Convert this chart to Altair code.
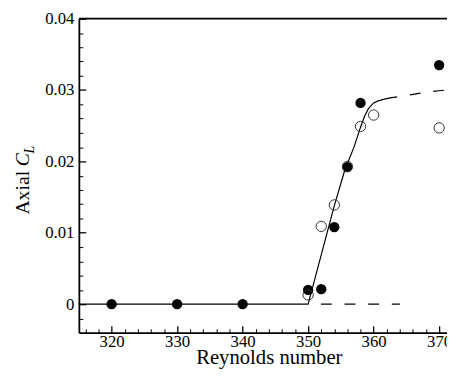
import altair as alt
import pandas as pd

# ---- data ----
re_filled = [320, 330, 340, 350, 352, 354, 356, 358, 370]
cl_filled = [0.0, 0.0, 0.0, 0.0020, 0.0021, 0.0108, 0.0192, 0.0282, 0.0335]

re_open = [350, 352, 354, 356, 358, 360, 370]
cl_open = [0.0013, 0.0109, 0.0139, 0.0193, 0.0249, 0.0265, 0.0247]

re_fit = [315, 350, 352, 354, 355.6, 357, 358, 358.6, 359.2, 360, 360.6, 361.5, 362.5, 363.6]
cl_fit = [0.0, 0.0, 0.0069, 0.0138, 0.0188, 0.0220, 0.0248, 0.0263, 0.0274, 0.0282, 0.02845, 0.0287, 0.0289, 0.02905]

re_dash = [350, 364, 363.6, 366, 368, 370, 372]
cl_dash = [0.0, 0.0, 0.02905, 0.0294, 0.0297, 0.0299, 0.0301]
seg_dash = ["low", "low", "high", "high", "high", "high", "high"]

x_major = [320, 330, 340, 350, 360, 370]
x_minor = [316, 318, 322, 324, 326, 328, 332, 334, 336, 338, 342, 344, 346, 348,
           352, 354, 356, 358, 362, 364, 366, 368]
y_major = [0, 0.01, 0.02, 0.03, 0.04]
y_minor = [-0.002, 0.002, 0.004, 0.006, 0.008, 0.012, 0.014, 0.016, 0.018,
           0.022, 0.024, 0.026, 0.028, 0.032, 0.034, 0.036, 0.038]

x_title = "Reynolds number"
y_title_parts = ["Axial", "C", "L"]

# ---- layout ----
W, H = 374, 319
FONT = "Liberation Serif"
xs = alt.Scale(domain=[315, 371.2], nice=False, zero=False)
ys = alt.Scale(domain=[-0.004, 0.04], nice=False, zero=False)

df_filled = pd.DataFrame({"re": re_filled, "cl": cl_filled})
df_open = pd.DataFrame({"re": re_open, "cl": cl_open})
df_fit = pd.DataFrame({"re": re_fit, "cl": cl_fit, "i": list(range(len(re_fit)))})
df_dash = pd.DataFrame({"re": re_dash, "cl": cl_dash, "seg": seg_dash,
                        "i": list(range(len(re_dash)))})

fit = alt.Chart(df_fit).mark_line(color="black", strokeWidth=1.2, clip=True).encode(
    x=alt.X("re:Q", scale=xs, axis=alt.Axis(
        orient="bottom", values=x_major, format="d", ticks=False, grid=False,
        domain=True, domainColor="black", domainWidth=1.8,
        labelFont=FONT, labelFontSize=17, labelColor="black", labelPadding=1,
        labelOverlap=False, labelFlush=False,
        title=x_title, titleFont=FONT, titleFontSize=21, titleFontWeight="normal",
        titleColor="black", titleBaseline="alphabetic", titleY=31, titleX=193)),
    y=alt.Y("cl:Q", scale=ys, axis=alt.Axis(
        orient="left", values=y_major, format=".2~f", ticks=False, grid=False,
        domain=True, domainColor="black", domainWidth=1.8,
        labelFont=FONT, labelFontSize=17, labelColor="black", labelPadding=5,
        labelOverlap=False, labelFlush=False, title=None)),
    order="i:Q",
)

dashed = alt.Chart(df_dash).mark_line(
    color="black", strokeWidth=1.2, strokeDash=[11, 13], strokeDashOffset=11, clip=True
).encode(
    x=alt.X("re:Q", scale=xs, axis=None),
    y=alt.Y("cl:Q", scale=ys, axis=None),
    detail="seg:N",
    order="i:Q",
)

border_top = alt.Chart(pd.DataFrame({"v": [y_major[-1]]})).mark_rule(
    color="black", strokeWidth=1.8
).encode(y=alt.Y("v:Q", scale=ys, axis=None))

filled = alt.Chart(df_filled).mark_circle(color="black", opacity=1, size=110).encode(
    x=alt.X("re:Q", scale=xs, axis=None),
    y=alt.Y("cl:Q", scale=ys, axis=None),
)

opened = alt.Chart(df_open).mark_point(
    shape="circle", filled=False, color="#333333", strokeWidth=1, size=110, opacity=1
).encode(
    x=alt.X("re:Q", scale=xs, axis=None),
    y=alt.Y("cl:Q", scale=ys, axis=None),
)


def tick_layer(xv, yv, size, width):
    return alt.Chart(df_filled).mark_point(opacity=0).encode(
        x=alt.X("re:Q", scale=xs, axis=alt.Axis(
            orient="top", offset=-H, values=xv, tickSize=size, tickWidth=width,
            tickColor="black", labels=False, domain=False, grid=False, title=None)),
        y=alt.Y("cl:Q", scale=ys, axis=alt.Axis(
            orient="right", offset=-W, values=yv, tickSize=size, tickWidth=width,
            tickColor="black", labels=False, domain=False, grid=False, title=None)),
    )


major_ticks = tick_layer(x_major, y_major, 7, 1.3)
minor_ticks = tick_layer(x_minor, y_minor, 4, 1.0)

t_df = pd.DataFrame({"t": [0]})
ytitle_a = alt.Chart(t_df).mark_text(
    text=y_title_parts[0], angle=270, align="left", baseline="alphabetic",
    font=FONT, fontSize=20, color="black"
).encode(x=alt.value(-51), y=alt.value(199))
ytitle_c = alt.Chart(t_df).mark_text(
    text=y_title_parts[1], angle=270, align="left", baseline="alphabetic",
    font=FONT, fontSize=20, fontStyle="italic", color="black"
).encode(x=alt.value(-51), y=alt.value(150))
ytitle_l = alt.Chart(t_df).mark_text(
    text=y_title_parts[2], angle=270, align="left", baseline="alphabetic",
    font=FONT, fontSize=14, fontStyle="italic", color="black"
).encode(x=alt.value(-46), y=alt.value(137))

chart = alt.layer(
    fit, dashed, border_top, filled, opened, major_ticks, minor_ticks,
    ytitle_a, ytitle_c, ytitle_l
).resolve_axis(x="independent", y="independent").properties(
    width=W, height=H,
    autosize=alt.AutoSizeParams(type="none"),
    padding={"left": 72, "top": 8, "right": 0, "bottom": 34},
    background="white",
).configure_view(stroke="transparent")

chart.save("out.html", embed_options={"renderer": "svg", "actions": False})
